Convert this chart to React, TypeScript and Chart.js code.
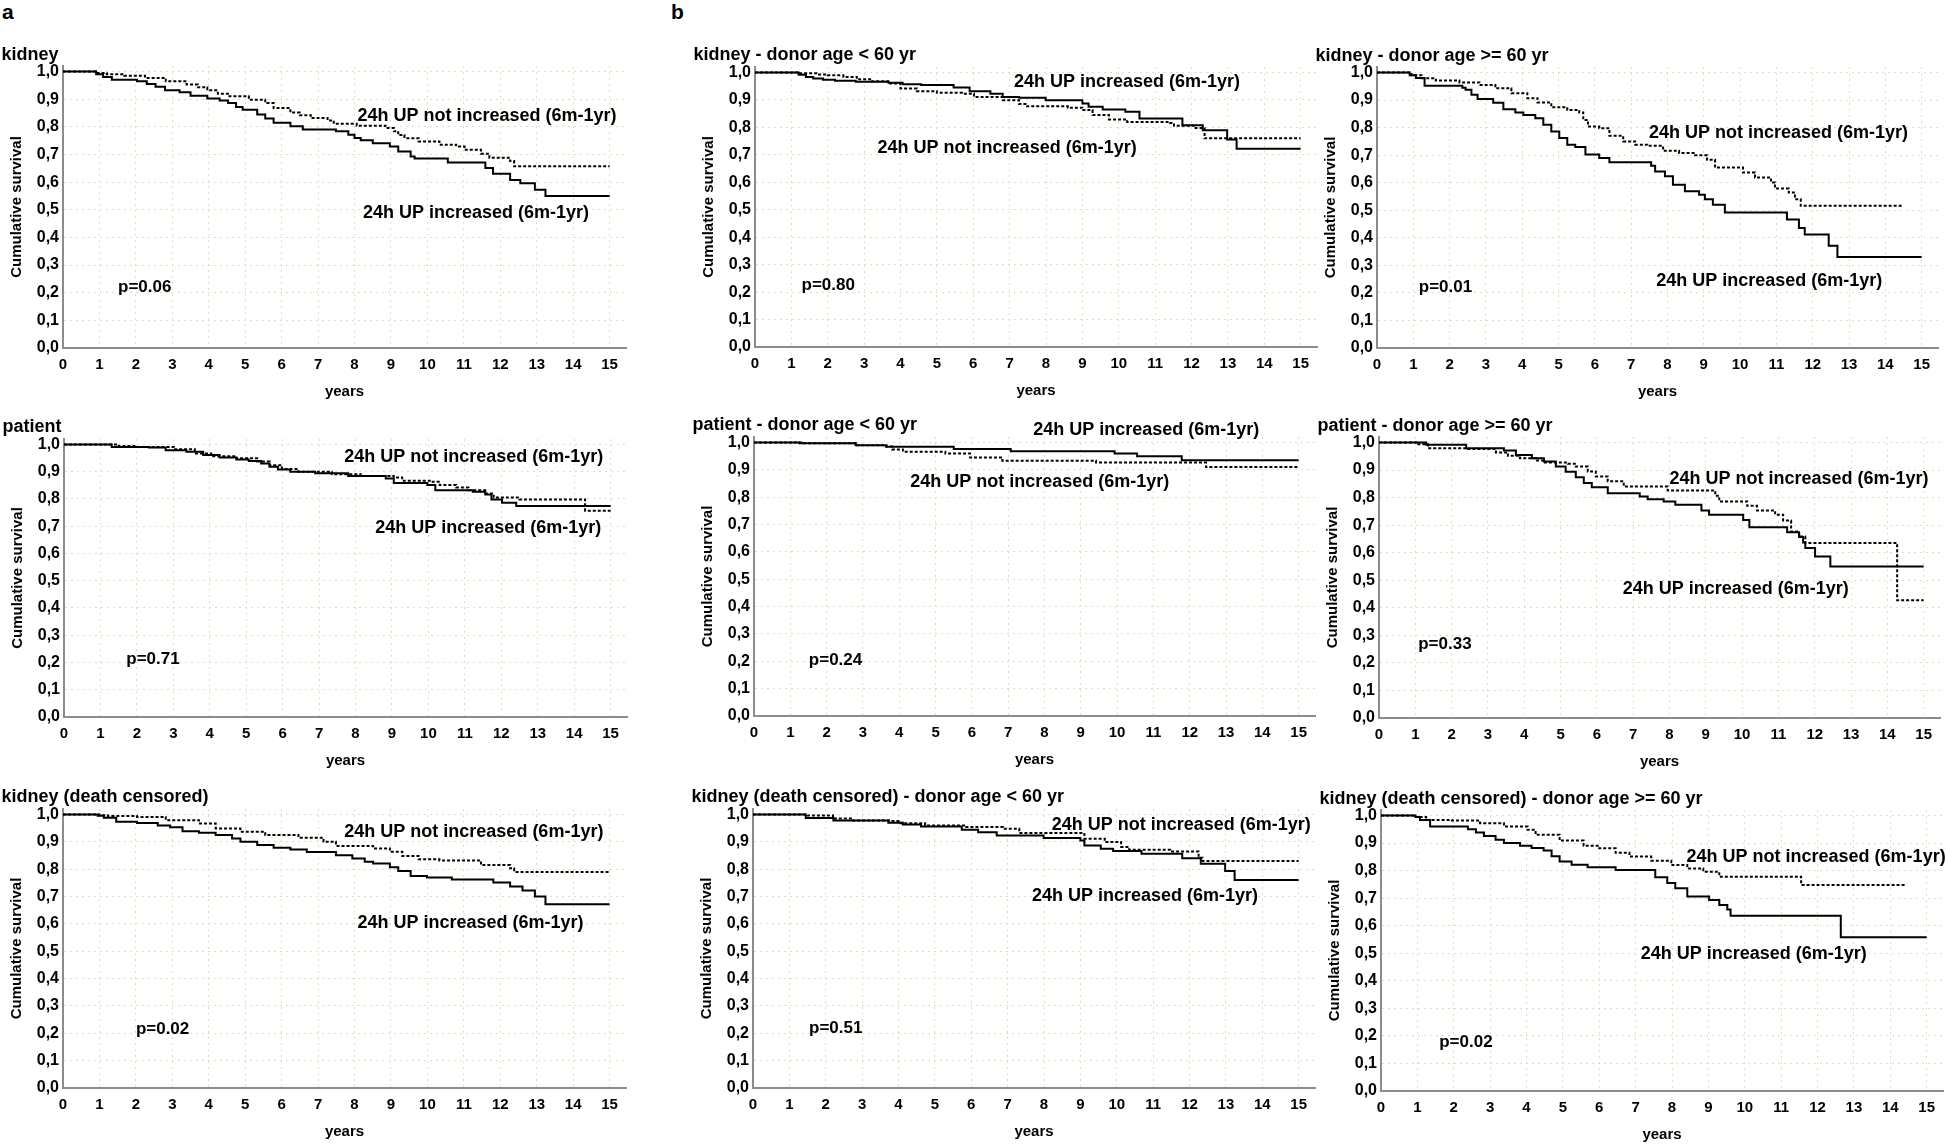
import React, { useEffect, useRef } from "react";
import { Chart, registerables } from "chart.js";

Chart.register(...registerables);

const FONT = '"Liberation Sans", Arial, Helvetica, sans-serif';

// ---------- axis ticks ----------
const YEAR_TICKS = [0, 1, 2, 3, 4, 5, 6, 7, 8, 9, 10, 11, 12, 13, 14, 15];
const SURV_TICKS = [0, 0.1, 0.2, 0.3, 0.4, 0.5, 0.6, 0.7, 0.8, 0.9, 1.0];
const SURV_TICK_LABELS = ["0,0", "0,1", "0,2", "0,3", "0,4", "0,5", "0,6", "0,7", "0,8", "0,9", "1,0"];
const X_MAX = 15.45;
const Y_MAX = 1.02;

// ---------- text ----------
const LABEL_NOT = "24h UP not increased (6m-1yr)";
const LABEL_INC = "24h UP increased (6m-1yr)";
const TITLES = [
  "kidney",
  "kidney - donor age < 60 yr",
  "kidney - donor age >= 60 yr",
  "patient",
  "patient - donor age < 60 yr",
  "patient - donor age >= 60 yr",
  "kidney (death censored)",
  "kidney (death censored) - donor age < 60 yr",
  "kidney (death censored) - donor age >= 60 yr",
];
const P_VALUES = ["p=0.06", "p=0.80", "p=0.01", "p=0.71", "p=0.24", "p=0.33", "p=0.02", "p=0.51", "p=0.02"];

// ---------- survival curves: [years, cumulative survival after the step] ----------
const kidneyInc = [[0,1],[0.91,0.99],[1.1,0.98],[1.34,0.97],[2.03,0.965],[2.3,0.955],[2.54,0.945],[2.8,0.932],[3.2,0.925],[3.5,0.912],[3.96,0.902],[4.3,0.895],[4.53,0.886],[4.75,0.872],[4.93,0.862],[5.33,0.845],[5.55,0.83],[5.78,0.815],[6.24,0.802],[6.58,0.79],[7.49,0.784],[7.83,0.771],[8.0,0.76],[8.17,0.751],[8.5,0.741],[8.97,0.729],[9.2,0.711],[9.54,0.693],[9.65,0.685],[10.56,0.671],[11.59,0.651],[11.8,0.63],[12.27,0.608],[12.55,0.596],[12.95,0.572],[13.24,0.55],[15,0.55]];
const kidneyNot = [[0,1],[0.9,0.995],[1.2,0.99],[1.68,0.985],[2.25,0.977],[2.82,0.965],[3.39,0.953],[3.7,0.943],[3.96,0.932],[4.25,0.92],[4.53,0.911],[5.1,0.898],[5.55,0.886],[5.78,0.868],[6.24,0.852],[6.5,0.842],[6.8,0.832],[7.26,0.823],[7.43,0.811],[8.06,0.804],[8.85,0.796],[9.08,0.784],[9.2,0.77],[9.37,0.759],[9.76,0.747],[10.33,0.735],[10.79,0.729],[11.02,0.717],[11.47,0.703],[11.7,0.688],[12.27,0.676],[12.38,0.657],[15,0.657]];

const kidneyYoungInc = [[0,1],[1.2,0.992],[1.4,0.984],[1.6,0.978],[1.87,0.974],[2.2,0.97],[2.77,0.966],[3.67,0.963],[4.06,0.957],[4.57,0.954],[5.46,0.945],[5.9,0.932],[6.47,0.923],[6.81,0.911],[7.26,0.908],[7.99,0.899],[9.0,0.887],[9.17,0.875],[9.56,0.865],[10.18,0.857],[10.57,0.832],[11.75,0.808],[12.31,0.79],[12.98,0.756],[13.24,0.722],[15,0.722]];
const kidneyYoungNot = [[0,1],[1.2,0.997],[1.76,0.993],[2.0,0.99],[2.43,0.984],[2.8,0.975],[3.22,0.968],[3.72,0.96],[4.0,0.942],[4.45,0.932],[5.0,0.926],[5.69,0.923],[6.02,0.911],[6.81,0.899],[7.26,0.885],[7.48,0.877],[8.6,0.872],[9.0,0.863],[9.28,0.845],[9.73,0.829],[10.23,0.82],[11.41,0.816],[11.52,0.806],[12.08,0.798],[12.36,0.76],[15,0.76]];

const kidneyOldInc = [[0,1],[0.9,0.99],[1.07,0.98],[1.31,0.952],[2.35,0.945],[2.44,0.937],[2.6,0.919],[2.77,0.904],[3.2,0.89],[3.48,0.867],[3.81,0.855],[4.03,0.846],[4.36,0.834],[4.58,0.81],[4.8,0.786],[5.02,0.762],[5.24,0.738],[5.46,0.73],[5.74,0.702],[6.12,0.69],[6.4,0.674],[7.55,0.662],[7.66,0.641],[7.93,0.623],[8.15,0.593],[8.48,0.569],[8.87,0.556],[9.03,0.54],[9.25,0.52],[9.58,0.492],[11.29,0.466],[11.62,0.436],[11.78,0.412],[12.44,0.371],[12.68,0.33],[15,0.33]];
const kidneyOldNot = [[0,1],[0.95,0.99],[1.23,0.979],[1.62,0.971],[2.27,0.964],[2.82,0.955],[3.26,0.943],[3.7,0.925],[4.14,0.907],[4.42,0.891],[4.8,0.874],[5.24,0.864],[5.57,0.855],[5.68,0.828],[5.81,0.804],[6.12,0.798],[6.4,0.77],[6.78,0.75],[7.11,0.738],[7.44,0.734],[7.88,0.716],[8.32,0.708],[8.76,0.7],[9.09,0.683],[9.31,0.655],[10.08,0.637],[10.41,0.619],[10.85,0.601],[10.96,0.579],[11.34,0.564],[11.51,0.54],[11.67,0.516],[14.45,0.516]];

const patientInc = [[0,1],[1.31,0.991],[2.33,0.989],[2.79,0.979],[3.36,0.973],[3.82,0.961],[4.27,0.952],[4.73,0.945],[5.07,0.939],[5.41,0.93],[5.64,0.918],[5.87,0.908],[6.21,0.9],[6.89,0.894],[7.8,0.884],[8.83,0.875],[9.05,0.859],[9.97,0.851],[10.19,0.832],[11.22,0.826],[11.56,0.816],[11.73,0.798],[12.02,0.786],[12.41,0.774],[15,0.774]];
const patientNot = [[0,1],[1.5,0.994],[1.99,0.991],[3.02,0.982],[3.59,0.967],[4.04,0.957],[4.73,0.949],[5.3,0.937],[5.64,0.924],[5.98,0.91],[6.43,0.9],[7.35,0.891],[8.14,0.884],[9.05,0.879],[9.28,0.867],[10.08,0.863],[10.31,0.851],[10.76,0.842],[11.1,0.832],[11.56,0.82],[11.79,0.805],[12.5,0.798],[14.3,0.757],[15,0.757]];

const patientYoungInc = [[0,1],[1.25,0.997],[2.8,0.99],[3.65,0.984],[5.5,0.976],[7.07,0.968],[9.93,0.96],[10.55,0.95],[11.78,0.935],[15,0.935]];
const patientYoungNot = [[0,1],[1.3,0.997],[2.8,0.99],[3.6,0.985],[3.8,0.974],[4.1,0.966],[5.27,0.96],[5.95,0.945],[6.84,0.933],[9.42,0.927],[12.45,0.91],[15,0.91]];

const patientOldInc = [[0,1],[1.3,0.992],[2.4,0.979],[3.44,0.971],[3.77,0.955],[4.21,0.943],[4.54,0.931],[4.87,0.913],[5.14,0.894],[5.42,0.874],[5.64,0.853],[5.86,0.838],[6.3,0.816],[7.18,0.804],[7.4,0.794],[7.84,0.786],[8.16,0.774],[8.88,0.753],[9.09,0.738],[10.03,0.719],[10.2,0.692],[11.24,0.674],[11.57,0.657],[11.68,0.637],[11.74,0.617],[12.01,0.586],[12.43,0.55],[15,0.55]];
const patientOldNot = [[0,1],[1.02,0.994],[1.35,0.979],[2.45,0.976],[3.22,0.964],[3.55,0.952],[3.88,0.943],[4.32,0.935],[4.54,0.927],[5.2,0.923],[5.42,0.913],[5.75,0.895],[5.97,0.877],[6.3,0.859],[6.74,0.84],[7.95,0.826],[9.26,0.807],[9.37,0.786],[10.14,0.77],[10.41,0.753],[10.91,0.738],[11.13,0.717],[11.35,0.677],[11.57,0.659],[11.74,0.635],[14.27,0.427],[15,0.427]];

const censoredInc = [[0,1],[0.95,0.995],[1.12,0.988],[1.46,0.973],[2.03,0.969],[2.6,0.96],[2.94,0.953],[3.28,0.939],[3.73,0.933],[4.19,0.925],[4.64,0.912],[4.87,0.9],[5.33,0.888],[5.78,0.878],[6.24,0.872],[6.69,0.863],[7.49,0.851],[7.94,0.839],[8.28,0.827],[8.51,0.821],[8.97,0.807],[9.2,0.793],[9.54,0.775],[9.99,0.77],[10.67,0.762],[11.81,0.751],[12.27,0.737],[12.61,0.722],[12.95,0.7],[13.24,0.672],[15,0.672]];
const censoredNot = [[0,1],[1.0,0.997],[1.23,0.994],[2.03,0.991],[2.82,0.979],[3.73,0.967],[4.19,0.949],[4.87,0.937],[5.55,0.925],[6.46,0.915],[7.15,0.9],[7.49,0.885],[8.51,0.876],[8.97,0.864],[9.31,0.848],[9.76,0.836],[10.33,0.832],[11.47,0.815],[12.27,0.803],[12.38,0.79],[15,0.79]];

const censoredYoungInc = [[0,1],[1.45,0.987],[2.21,0.978],[3.72,0.97],[4.12,0.963],[4.62,0.956],[5.74,0.944],[6.19,0.935],[6.7,0.923],[7.99,0.914],[9.0,0.905],[9.11,0.887],[9.56,0.875],[9.9,0.866],[10.68,0.856],[11.8,0.84],[12.31,0.82],[12.98,0.793],[13.24,0.76],[15,0.76]];
const censoredYoungNot = [[0,1],[1.5,0.996],[2.2,0.985],[2.72,0.978],[3.78,0.976],[4.06,0.968],[4.73,0.96],[5.86,0.954],[6.87,0.948],[7.32,0.932],[9.11,0.911],[9.67,0.899],[10.12,0.881],[10.34,0.871],[11.47,0.865],[12.25,0.842],[12.36,0.83],[15,0.83]];

const censoredOldInc = [[0,1],[0.95,0.995],[1.07,0.984],[1.35,0.96],[2.39,0.95],[2.61,0.938],[2.83,0.926],[3.15,0.912],[3.38,0.9],[3.82,0.89],[4.14,0.882],[4.47,0.873],[4.69,0.852],[4.91,0.833],[5.24,0.821],[5.68,0.812],[6.45,0.802],[7.54,0.776],[7.87,0.755],[8.09,0.736],[8.42,0.706],[9.02,0.693],[9.3,0.675],[9.52,0.659],[9.61,0.636],[12.64,0.558],[15,0.558]];
const censoredOldNot = [[0,1],[0.95,0.995],[1.24,0.984],[1.95,0.982],[2.72,0.972],[3.38,0.96],[4.03,0.948],[4.25,0.93],[4.91,0.909],[5.57,0.89],[6.0,0.881],[6.45,0.865],[6.83,0.851],[7.43,0.836],[7.98,0.82],[8.42,0.808],[8.86,0.796],[9.3,0.778],[11.55,0.748],[14.4,0.748]];

const CURVES_INC = [kidneyInc, kidneyYoungInc, kidneyOldInc, patientInc, patientYoungInc, patientOldInc, censoredInc, censoredYoungInc, censoredOldInc];
const CURVES_NOT = [kidneyNot, kidneyYoungNot, kidneyOldNot, patientNot, patientYoungNot, patientOldNot, censoredNot, censoredYoungNot, censoredOldNot];

// ---------- label placements, in data units [years, survival] ----------
const NOT_LABEL_AT = [[8.08,0.838],[3.37,0.723],[7.49,0.78],[7.69,0.955],[4.3,0.856],[8.0,0.868],[7.72,0.934],[8.21,0.96],[8.4,0.848]];
const INC_LABEL_AT = [[8.23,0.487],[7.12,0.964],[7.69,0.242],[8.54,0.692],[7.69,1.047],[6.71,0.468],[8.08,0.602],[7.67,0.702],[7.14,0.496]];
const P_LABEL_AT = [[1.51,0.219],[1.28,0.225],[1.15,0.221],[1.71,0.21],[1.51,0.205],[1.08,0.266],[2.0,0.215],[1.54,0.22],[1.6,0.178]];

// ---------- layout: pixel position of x=0, x=15, y=1.0, y=0.0 for each panel ----------
const PANEL_BOX = [
  [63, 609.5, 72, 347.7],
  [754.7, 1300.4, 72.3, 346.7],
  [1377, 1922, 72.7, 348.3],
  [64.3, 610.3, 444.3, 717.3],
  [753.5, 1299, 442.3, 716],
  [1378.7, 1923.6, 442.7, 718.3],
  [63, 609.5, 814.3, 1088.3],
  [752.7, 1298.4, 814, 1087.7],
  [1380.7, 1926.8, 815.7, 1090.7],
];
const PAD_L = 66, PAD_T = 40, PAD_R = 20, PAD_B = 60;

const textPlugin = {
  id: "kmText",
  afterDraw(chart: any, _args: any, opts: any) {
    const { ctx, chartArea } = chart;
    const x = chart.scales.x, y = chart.scales.y;
    ctx.save();
    ctx.fillStyle = "#000";
    // title
    ctx.font = `bold 18px ${FONT}`;
    ctx.textAlign = "left";
    ctx.textBaseline = "alphabetic";
    ctx.fillText(opts.title, chartArea.left - 61.5, y.getPixelForValue(1) - 12);
    // axis titles
    ctx.save();
    ctx.translate(chartArea.left - 46, y.getPixelForValue(0.51));
    ctx.rotate(-Math.PI / 2);
    ctx.font = `bold 15px ${FONT}`;
    ctx.textAlign = "center";
    ctx.textBaseline = "middle";
    ctx.fillText("Cumulative survival", 0, 0);
    ctx.restore();
    ctx.font = `bold 15px ${FONT}`;
    ctx.textAlign = "center";
    ctx.textBaseline = "middle";
    ctx.fillText("years", (chartArea.left + chartArea.right) / 2, y.getPixelForValue(0) + 44);
    // curve labels
    ctx.textAlign = "left";
    ctx.font = `bold 18px ${FONT}`;
    for (const n of opts.notes) {
      ctx.fillText(n.text, x.getPixelForValue(n.at[0]), y.getPixelForValue(n.at[1]));
    }
    ctx.font = `bold 17px ${FONT}`;
    ctx.fillText(opts.p.text, x.getPixelForValue(opts.p.at[0]), y.getPixelForValue(opts.p.at[1]));
    ctx.restore();
  },
};

function KMPanel({ index }: { index: number }) {
  const ref = useRef<HTMLCanvasElement>(null);
  const [x0, x15, y1, y0] = PANEL_BOX[index];
  const pxYear = (x15 - x0) / 15;
  const areaLeft = x0;
  const areaRight = x0 + pxYear * X_MAX;
  const areaBottom = y0;
  const areaTop = y0 - (y0 - y1) * Y_MAX;
  const cLeft = Math.round(areaLeft - PAD_L);
  const cTop = Math.round(areaTop - PAD_T);
  const cWidth = Math.round(areaRight + PAD_R) - cLeft;
  const cHeight = Math.round(areaBottom + PAD_B) - cTop;
  const yAxisW = Math.round(areaLeft) - cLeft;
  const padTop = Math.round(areaTop) - cTop;
  const padRight = cLeft + cWidth - Math.round(areaRight);
  const xAxisH = cTop + cHeight - Math.round(areaBottom);

  useEffect(() => {
    if (!ref.current) return;
    const toPts = (arr: number[][]) => arr.map(([t, s]) => ({ x: t, y: s }));
    const grid = { color: "#e4e0b4", lineWidth: 1, drawTicks: false };
    const border = { display: true, color: "#8c8c8c", width: 2, dash: [2, 4] };
    const chart = new Chart(ref.current, {
      type: "line",
      data: {
        datasets: [
          {
            data: toPts(CURVES_NOT[index]),
            stepped: "before",
            borderColor: "#000",
            borderWidth: 2,
            borderDash: [3, 2],
            pointRadius: 0,
            fill: false,
          },
          {
            data: toPts(CURVES_INC[index]),
            stepped: "before",
            borderColor: "#000",
            borderWidth: 2,
            pointRadius: 0,
            fill: false,
          },
        ],
      } as any,
      options: {
        responsive: false,
        animation: false,
        devicePixelRatio: 1,
        layout: { padding: { left: 0, top: padTop, right: padRight, bottom: 0 } },
        plugins: {
          legend: { display: false },
          tooltip: { enabled: false },
          kmText: {
            title: TITLES[index],
            notes: [
              { text: LABEL_NOT, at: NOT_LABEL_AT[index] },
              { text: LABEL_INC, at: INC_LABEL_AT[index] },
            ],
            p: { text: P_VALUES[index], at: P_LABEL_AT[index] },
          },
        } as any,
        scales: {
          x: {
            type: "linear",
            min: 0,
            max: X_MAX,
            grid,
            border,
            afterBuildTicks: (s: any) => {
              s.ticks = YEAR_TICKS.map((v) => ({ value: v }));
            },
            afterFit: (s: any) => {
              s.height = xAxisH;
            },
            ticks: {
              padding: 8,
              color: "#000",
              font: { family: FONT, size: 15, weight: "bold" },
              maxRotation: 0,
              autoSkip: false,
              callback: (v: any) => String(v),
            },
          },
          y: {
            type: "linear",
            min: 0,
            max: Y_MAX,
            grid,
            border,
            afterBuildTicks: (s: any) => {
              s.ticks = SURV_TICKS.map((v) => ({ value: v }));
            },
            afterFit: (s: any) => {
              s.width = yAxisW;
            },
            ticks: {
              padding: 4,
              color: "#000",
              font: { family: FONT, size: 16, weight: "bold" },
              autoSkip: false,
              callback: (v: any) => {
                const i = SURV_TICKS.findIndex((t) => Math.abs(t - v) < 1e-6);
                return i >= 0 ? SURV_TICK_LABELS[i] : "";
              },
            },
          },
        },
      } as any,
      plugins: [textPlugin as any],
    });
    return () => chart.destroy();
  }, [index]);

  return (
    <canvas
      ref={ref}
      width={cWidth}
      height={cHeight}
      style={{ position: "absolute", left: cLeft, top: cTop, width: cWidth, height: cHeight }}
    />
  );
}

export default function App() {
  const letter = { position: "absolute" as const, top: 3, font: `bold 21px ${FONT}`, lineHeight: "18px", color: "#000" };
  return (
    <div style={{ position: "fixed", left: 0, top: 0, width: 1946, height: 1145, overflow: "hidden", background: "#fff" }}>
      <div style={{ ...letter, left: 2 }}>a</div>
      <div style={{ ...letter, left: 671 }}>b</div>
      {PANEL_BOX.map((_, i) => (
        <KMPanel key={i} index={i} />
      ))}
    </div>
  );
}
